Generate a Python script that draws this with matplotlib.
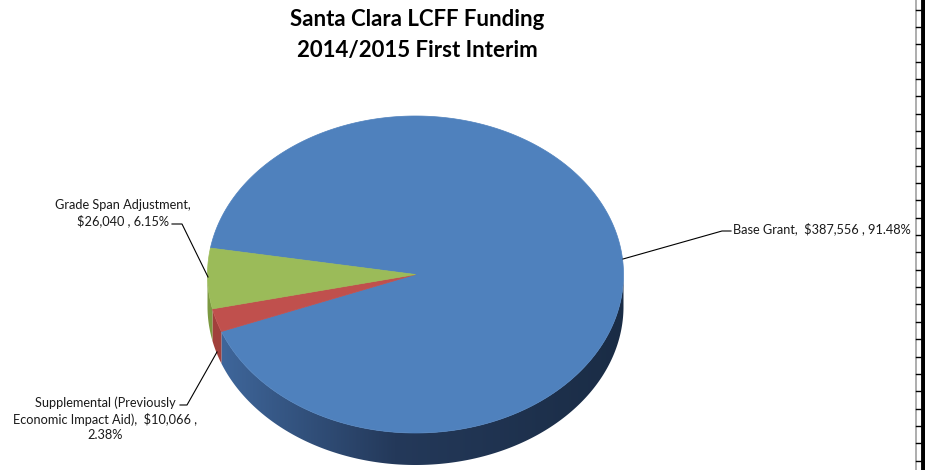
import numpy as np
import matplotlib.pyplot as plt
from matplotlib.patches import Polygon
from matplotlib.colors import to_rgb

# LCFF funding components (thousands of dollars), clockwise order
names = ["Base Grant", "Supplemental (Previously\nEconomic Impact Aid)", "Grade Span Adjustment"]
values = [387556, 10066, 26040]
pcts = ["91.48%", "2.38%", "6.15%"]
top_colors = ["#4f81bd", "#c0504d", "#9bbb59"]
side_colors = [("#416aa0", "#24395a", "#1a2c45"), ("#a3413d", "#8a3431", "#8a3431"),
               ("#7d9a42", "#6f8a3a", "#6f8a3a")]

W, H = 925, 470
fig = plt.figure(figsize=(W / 100, H / 100), dpi=100)
ax = fig.add_axes([0, 0, 1, 1])
ax.set_xlim(0, W)
ax.set_ylim(H, 0)
ax.axis("off")

font = "Lato"

# pie geometry in pixels
cx, cy, a, b, depth = 415.5, 274.5, 208, 158.5, 32
start = 170.4


def pt(t, dz=0):
    r = np.radians(t)
    return cx + a * np.cos(r), cy - b * np.sin(r) + dz


fracs = np.array(values) / np.sum(values)
bounds = start - np.concatenate([[0], np.cumsum(fracs) * 360])

# horizontal shading of the side wall
xs = np.arange(W) + 0.5
fx = np.clip((xs - (cx - a)) / (2 * a), 0, 1)


def side_image(cols):
    c0, c1, c2 = (np.array(to_rgb(c)) for c in cols)
    w = np.clip(fx / 0.45, 0, 1)[:, None]
    v = np.clip((fx - 0.45) / 0.55, 0, 1)[:, None]
    row = np.where(fx[:, None] < 0.45, c0 + (c1 - c0) * w, c1 + (c2 - c1) * v)
    return np.repeat(row[None, :, :], 2, axis=0)


# side walls (front half only: -180..0 deg)
for i in range(len(values)):
    hi, lo = bounds[i], bounds[i + 1]
    for k in (-360, 0, 360):
        s, e = max(lo + k, -180), min(hi + k, 0)
        if e <= s:
            continue
        ts = np.linspace(s, e, max(int((e - s) * 3), 2))
        verts = [pt(t) for t in ts] + [pt(t, depth) for t in ts[::-1]]
        poly = Polygon(verts, closed=True, fc="none", ec="none")
        ax.add_patch(poly)
        im = ax.imshow(side_image(side_colors[i]), extent=(0, W, H, 0),
                       aspect="auto", interpolation="bilinear", zorder=1)
        im.set_clip_path(poly)

# top faces
for i in range(len(values)):
    hi, lo = bounds[i], bounds[i + 1]
    ts = np.linspace(hi, lo, max(int((hi - lo) * 2), 3))
    verts = [(cx, cy)] + [pt(t) for t in ts]
    ax.add_patch(Polygon(verts, closed=True, fc=top_colors[i], ec=top_colors[i],
                         lw=0.5, zorder=2))

# data labels with leader lines
lab_kw = dict(fontsize=9.2, family=font, color="#1a1a1a", linespacing=1.35)
ax.plot([623, 722, 731], [259, 231, 231], color="black", lw=0.8, zorder=3)
ax.text(733, 229, f"{names[0]},  ${values[0]:,} , {pcts[0]}", ha="left", va="center", **lab_kw)

ax.plot([208, 182, 172], [277, 224, 224], color="black", lw=0.8, zorder=3)
ax.text(123, 213, f"{names[2]},\n${values[2]:,} , {pcts[2]}", ha="center", va="center", **lab_kw)

ax.plot([217, 187, 180], [352, 405, 405], color="black", lw=0.8, zorder=3)
ax.text(105, 419, f"{names[1]},  ${values[1]:,} ,\n{pcts[1]}", ha="center", va="center", **lab_kw)

# title
ax.text(417, 20, "Santa Clara LCFF Funding", ha="center", va="center",
        fontsize=16, fontweight="bold", family=font, color="black")
ax.text(417, 50, "2014/2015 First Interim", ha="center", va="center",
        fontsize=16, fontweight="bold", family=font, color="black")

# sheet border on the right edge
ax.plot([916, 916], [0, H], color="#a0a0a0", lw=1.2)
ax.plot([923, 923], [0, H], color="black", lw=3.5)
for y in np.arange(9.5, H, 17.35):
    ax.plot([916, 921], [y, y], color="black", lw=1.0)

fig.savefig("out.png", dpi=100)
